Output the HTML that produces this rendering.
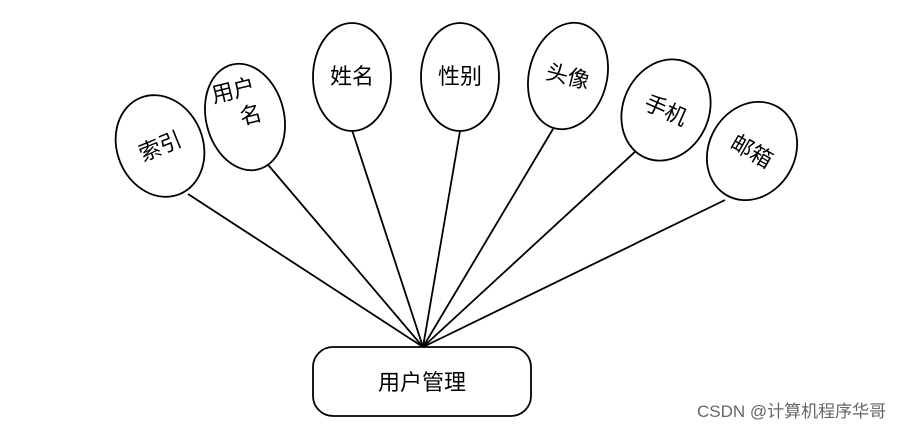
<!DOCTYPE html>
<html><head><meta charset="utf-8"><style>
body{margin:0;background:#fff;width:922px;height:429px;overflow:hidden}
</style></head><body>
<svg width="922" height="429" xmlns="http://www.w3.org/2000/svg" font-family="Liberation Sans, Noto Sans CJK SC, sans-serif">
<g stroke="#000" stroke-width="1.8" fill="none">
<line x1="188" y1="194" x2="423" y2="347"/>
<line x1="258" y1="153" x2="423" y2="347"/>
<line x1="352" y1="130" x2="423" y2="347"/>
<line x1="460" y1="131" x2="423" y2="347"/>
<line x1="553" y1="129" x2="423" y2="347"/>
<line x1="638" y1="149" x2="423" y2="347"/>
<line x1="725" y1="200" x2="423" y2="347"/>
</g>
<g stroke="#000" stroke-width="1.8" fill="#fff">
<ellipse cx="160" cy="146" rx="43" ry="52" transform="rotate(-22 160 146)"/>
<ellipse cx="245" cy="117" rx="39" ry="54" transform="rotate(-14 245 117)"/>
<ellipse cx="352" cy="77" rx="39" ry="54"/>
<ellipse cx="460" cy="77" rx="39" ry="54"/>
<ellipse cx="568" cy="76" rx="39" ry="54" transform="rotate(14 568 76)"/>
<ellipse cx="666" cy="110" rx="43" ry="52" transform="rotate(24 666 110)"/>
<ellipse cx="752" cy="151" rx="43" ry="51" transform="rotate(30 752 151)"/>
<rect x="313" y="347" width="218" height="69" rx="20" ry="20"/>
</g>
<g font-size="22" fill="#000" text-anchor="middle">
<text x="160" y="154" transform="rotate(-22 160 146)">索引</text>
<text x="240" y="96" transform="rotate(-14 245 117)">用户</text>
<text x="251" y="124" transform="rotate(-14 245 117)">名</text>
<text x="352" y="84">姓名</text>
<text x="460" y="84">性别</text>
<text x="568" y="84" transform="rotate(14 568 76)">头像</text>
<text x="666" y="118" transform="rotate(24 666 110)">手机</text>
<text x="752" y="159" transform="rotate(30 752 151)">邮箱</text>
<text x="422" y="390">用户管理</text>
</g>
<text x="697" y="417" font-size="17" fill="#666">CSDN @计算机程序华哥</text>
</svg>
</body></html>
